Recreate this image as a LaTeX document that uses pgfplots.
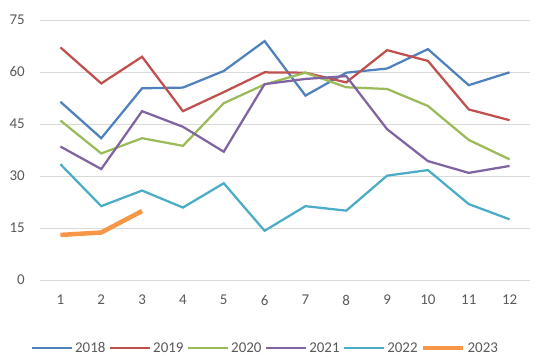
\documentclass[border=0pt]{standalone}
\usepackage{pgfplots}
\pgfplotsset{compat=1.18}
\usepackage{fontspec}
\setmainfont{Carlito}
\definecolor{c18}{HTML}{4F81BD}
\definecolor{c19}{HTML}{C0504D}
\definecolor{c20}{HTML}{9BBB59}
\definecolor{c21}{HTML}{8064A2}
\definecolor{c22}{HTML}{4BACC6}
\definecolor{c23}{HTML}{F79646}
\definecolor{txt}{HTML}{595959}
\definecolor{grd}{HTML}{D9D9D9}
\begin{document}
\begin{tikzpicture}
\useasboundingbox (0,0) rectangle (550bp,362bp);
\begin{axis}[
  at={(40bp,82bp)}, anchor=south west,
  scale only axis, width=490bp, height=260bp,
  xmin=0.5, xmax=12.5, ymin=0, ymax=75,
  xtick={1,...,12}, ytick={0,15,...,75},
  axis line style={draw=none},
  major tick length=0pt,
  ymajorgrids, major grid style={draw=grd, line width=0.9bp},
  font=\fontsize{15}{18}\selectfont,
  tick label style={text=txt},
  /pgf/number format/assume math mode=true,
  yticklabel style={anchor=east, inner sep=0pt, xshift=-15bp},
  xticklabel style={anchor=north, inner sep=0pt, yshift=-15bp},
  legend columns=6,
  legend style={at={(axis description cs:0.46,-0.2615)}, anchor=center, draw=none, fill=none,
    font=\fontsize{15}{18}\selectfont, text=txt,
    /tikz/every even column/.append style={column sep=1.5bp},
    nodes={inner sep=2bp}},
  legend image code/.code={\draw[#1] (0bp,0bp) -- (40bp,0bp);},
]
\addplot[c18, line width=2.25bp] coordinates {(1,51.4)(2,40.9)(3,55.3)(4,55.5)(5,60.3)(6,68.9)(7,53.2)(8,59.8)(9,61.0)(10,66.6)(11,56.2)(12,59.9)};
\addlegendentry{2018}
\addplot[c19, line width=2.25bp] coordinates {(1,67.1)(2,56.7)(3,64.4)(4,48.7)(5,54.2)(6,59.9)(7,59.8)(8,57.0)(9,66.3)(10,63.2)(11,49.2)(12,46.1)};
\addlegendentry{2019}
\addplot[c20, line width=2.25bp] coordinates {(1,46.0)(2,36.5)(3,40.9)(4,38.7)(5,51.0)(6,56.4)(7,59.8)(8,55.6)(9,55.1)(10,50.2)(11,40.4)(12,34.8)};
\addlegendentry{2020}
\addplot[c21, line width=2.25bp] coordinates {(1,38.5)(2,32.0)(3,48.7)(4,44.2)(5,37.0)(6,56.5)(7,58.0)(8,58.8)(9,43.5)(10,34.3)(11,30.9)(12,32.9)};
\addlegendentry{2021}
\addplot[c22, line width=2.25bp] coordinates {(1,33.4)(2,21.3)(3,25.8)(4,20.9)(5,27.9)(6,14.2)(7,21.3)(8,20.0)(9,30.1)(10,31.7)(11,21.9)(12,17.5)};
\addlegendentry{2022}
\addplot[c23, line width=4.5bp] coordinates {(1,13.0)(2,13.7)(3,19.9)};
\addlegendentry{2023}
\end{axis}
\end{tikzpicture}
\end{document}
